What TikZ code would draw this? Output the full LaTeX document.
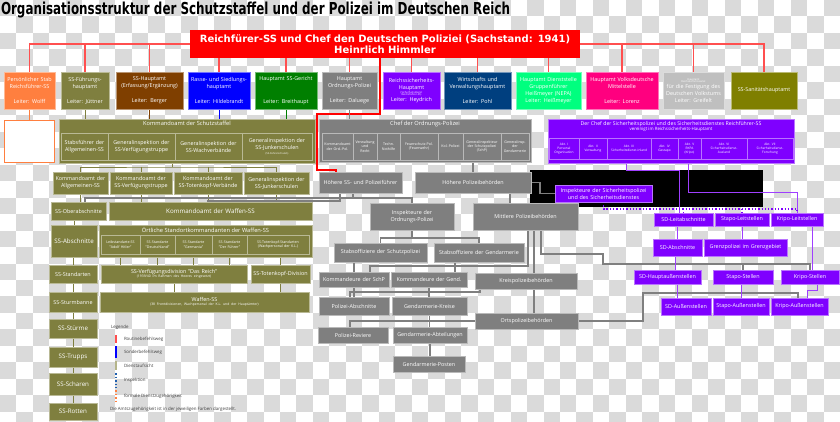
\documentclass[tikz,border=0pt]{standalone}
\usepackage{fontspec}
\usepackage{graphicx}
\setsansfont{Open Sans}
\newfontfamily\headfont{DejaVu Sans}
\usetikzlibrary{positioning}

\definecolor{rfred}{HTML}{FF0000}
\definecolor{redline}{HTML}{FF4F4F}
\definecolor{stabor}{HTML}{FF7F3F}
\definecolor{fhaolive}{HTML}{7F7F3F}
\definecolor{habrown}{HTML}{7F3F00}
\definecolor{rublue}{HTML}{0000FF}
\definecolor{gergreen}{HTML}{007F00}
\definecolor{orpogray}{HTML}{7F7F7F}
\definecolor{sdviolet}{HTML}{7F00FF}
\definecolor{sdline}{HTML}{9F3FFF}
\definecolor{wvblue}{HTML}{003F7F}
\definecolor{nepagreen}{HTML}{00FF7F}
\definecolor{vomipink}{HTML}{FF007F}
\definecolor{rkfgray}{HTML}{BFBFBF}
\definecolor{saniolive}{HTML}{7F7F00}
\definecolor{lgolive}{HTML}{B5B58A}
\definecolor{lgdot}{HTML}{1F5FAF}
\definecolor{chkgray}{HTML}{DADADA}

\newcommand\fsz[2]{\fontsize{#1}{#2}\selectfont}
\newcommand\tny{\fsz{2.6}{3.2}}

\pgfdeclarelayer{chk}
\pgfdeclarelayer{bg}
\pgfsetlayers{chk,bg,main}

\begin{document}
\begin{tikzpicture}[x=1pt, y=-1pt,
  every node/.style={font=\sffamily\fsz{5.4}{7}, text=white, align=center,
                     inner xsep=0pt, inner ysep=0.5pt, outer sep=0pt},
  box/.style={fill=#1, draw=white!45!#1, line width=0.5pt, anchor=north west},
  wh/.style 2 args={text width=#1pt, minimum height=#2pt},
  head/.style={label={[font=\sffamily\fsz{5.7}{7}, text=white, anchor=north,
                       yshift=-1.5pt]north:{#1}}},
  big/.style={font=\sffamily\fsz{6.2}{7.5}},
  small/.style={font=\sffamily\fsz{3.6}{4.4}},
  mini/.style={font=\sffamily\fsz{3.2}{4}},
  lgtext/.style={font=\sffamily\fsz{4.4}{5}, text=black!75, anchor=west},
  rl/.style={draw=redline, line width=1.2pt},
  ol/.style={draw=fhaolive, line width=0.9pt},
  pl/.style={draw=orpogray, line width=1.3pt},
  vl/.style={draw=sdline, line width=0.9pt},
  vdot/.style={draw=sdviolet, line width=1.3pt, dotted},
  lgr/.style={draw=redline, line width=1.5pt},
  lgb/.style={draw=rublue, line width=1.5pt},
  lgo/.style={draw=lgolive, line width=1.5pt},
  lgd/.style={draw=lgdot, line width=1.5pt, dotted},
  lgf/.style={draw=stabor, line width=1.5pt, dotted},
]
\useasboundingbox (0,0) rectangle (840,421);
\begin{pgfonlayer}{chk}
  \fill[white] (0,0) rectangle (840,421);
  \begin{scope}
    \clip (0,0) rectangle (840,421);
    \foreach \i in {0,...,50}{\foreach \j in {0,...,25}{
      \ifodd\numexpr\i+\j\relax\else
        \fill[chkgray] (\i*16.47,\j*16.47) rectangle ++(16.47,16.47);
      \fi}}
  \end{scope}
\end{pgfonlayer}

\node[anchor=base west, text=black, inner sep=0pt] (title) at (1,14)
  {\resizebox{509pt}{12.5pt}{\headfont\bfseries Organisationsstruktur der Schutzstaffel und der Polizei im Deutschen Reich}};

\node[box=rfred, draw=none, wh={390}{28}, font=\headfont\bfseries\fsz{10}{11}] (rfss) at (190,30)
  {Reichfürer-SS und Chef den Deutschen Poliziei (Sachstand: 1941)\\Heinrlich Himmler};

\node[box=stabor, wh={51}{37}] (pers) at (4,72) {Persönlicher Stab\\Reichsführer-SS\\[8pt]Leiter: Wolff};
\node[box=fhaolive, wh={48}{37}] (sfha) at (61,72) {SS-Führungs-\\hauptamt\\[8pt]Leiter: Jüttner};
\node[box=habrown, wh={67}{37}] (ssha) at (116,72) {SS-Hauptamt\\(Erfassung/Ergänzung)\\[8pt]Leiter: Berger};
\node[box=rublue, wh={62}{37}] (rusha) at (188,72) {Rasse- und Siedlungs-\\hauptamt\\[8pt]Leiter: Hildebrandt};
\node[box=gergreen, wh={62}{37}] (gericht) at (255,72) {Hauptamt SS-Gericht\\[15.5pt]Leiter: Breithaupt};
\node[box=orpogray, wh={55}{37}] (hopo) at (322,72) {Hauptamt\\Ordnungs-Polizei\\[8pt]Leiter: Daluege};
\node[box=sdviolet, wh={57}{37}] (rsha) at (383,72) {Reichssicherheits-\\Hauptamt\\[-3pt]{\tny (Sicherheitsdienst}\\[-4.5pt]{\tny Reichsführer-SS)}\\[-1pt]Leiter: Heydrich};
\node[box=wvblue, wh={67}{37}] (wvha) at (444,72) {Wirtschafts und\\Verwaltungshauptamt\\[8pt]Leiter: Pohl};
\node[box=nepagreen, wh={65}{37}] (nepa) at (516,72) {Hauptamt Dienststelle\\Gruppenführer\\Heißmeyer (NEPA)\\Leiter: Heißmeyer};
\node[box=vomipink, wh={72}{37}] (vomi) at (586,72) {Hauptamt Volksdeutsche\\Mittelstelle\\[8pt]Leiter: Lorenz};
\node[box=rkfgray, wh={61}{37}] (rkf) at (663,72) {{\tny Hauptamt}\\[-4.5pt]{\tny Reichskommissariat}\\[-1pt]für die Festigung des\\Deutschen Volkstums\\Leiter: Greifelt};
\node[box=saniolive, wh={66}{37}] (sani) at (731,72) {SS-Sanitätshauptamt};

\node[box=white, draw=stabor, line width=1.5pt, wh={50}{42}] (persbox) at (4.5,120.5) {};

\node[box=fhaolive, wh={256}{44}, head={Kommandoamt der Schutzstaffel}] (koss) at (59,119) {};
\node[box=fhaolive, wh={47}{27}] (stabsf) at (61,133) {Stabsführer der\\Allgemeinen-SS};
\node[box=fhaolive, wh={67}{27}, right=0pt of stabsf] (givt) {Generalinspektion der\\SS-Verfügungstruppe};
\node[box=fhaolive, wh={67}{27}, right=0pt of givt] (giwv) {Generalinspektion der\\SS-Wachverbände};
\node[box=fhaolive, wh={70}{27}, right=0pt of giwv] (gijsk) {Generalinspektion der\\SS-Junkerschulen\\[-2.5pt]{\tny (SS-Führerschulen)}};

\node[box=orpogray, wh={212}{43}, head={Chef der Ordnungs-Polizei}] (cop) at (319,119) {};
\node[box=orpogray, small, wh={31}{27}] (opkdo) at (322,133) {Kommandoamt\\der Ord.-Pol.};
\node[box=orpogray, small, wh={24}{27}, right=0pt of opkdo] (opverw) {Verwaltung\\und\\Recht};
\node[box=orpogray, small, wh={23}{27}, right=0pt of opverw] (optn) {Techn.\\Nothilfe};
\node[box=orpogray, small, wh={38}{27}, right=0pt of optn] (opfeuer) {Feuerschutz-Pol.\\(Feuerwehr)};
\node[box=orpogray, small, wh={25}{27}, right=0pt of opfeuer] (opkol) {Kol.-Polizei};
\node[box=orpogray, small, wh={38}{27}, right=0pt of opkol] (opschp) {Generalinspekteur\\der Schutzpolizei\\(SchP)};
\node[box=orpogray, small, wh={28}{27}, right=0pt of opschp] (opgend) {Generalinsp.\\der\\Gendarmerie};

\node[box=sdviolet, wh={246}{44},
  label={[font=\sffamily\fsz{5.2}{6.5}, text=white, anchor=north, yshift=-2pt]north:{Der Chef der Sicherheitspolizei und des Sicherheitsdienstes Reichführer-SS\\[-1.5pt]{\fsz{4.4}{5}vereinigt im Reichssicherheits-Hauptamt}}}] (csipo) at (548,119) {};
\node[box=sdviolet, mini, wh={30}{21}] (abt1) at (549,138) {Abt. I\\Personal\\Organisation};
\node[box=sdviolet, mini, wh={28}{21}, right=0pt of abt1] (abt2) {Abt. II\\Verwaltung};
\node[box=sdviolet, mini, wh={44}{21}, right=0pt of abt2] (abt3) {Abt. III\\Sicherheitsdienst-Inland};
\node[box=sdviolet, mini, wh={27}{21}, right=0pt of abt3] (abt4) {Abt. IV\\Gestapo};
\node[box=sdviolet, mini, wh={23}{21}, right=0pt of abt4] (abt5) {Abt. V\\RKPA\\(Kripo)};
\node[box=sdviolet, mini, wh={46}{21}, right=0pt of abt5] (abt6) {Abt. VI\\Sicherheitsdienst-\\Ausland};
\node[box=sdviolet, mini, wh={46}{21}, right=0pt of abt6] (abt7) {Abt. VII\\Sicherheitsdienst-\\Forschung};

\node[box=fhaolive, wh={55}{22}] (kallg) at (53,172) {Kommandoamt der\\Allgemeinen-SS};
\node[box=fhaolive, wh={62}{22}] (kvt) at (110,172) {Kommandoamt der\\SS-Verfügungstruppe};
\node[box=fhaolive, wh={68}{22}] (ktv) at (174,172) {Kommandoamt der\\SS-Totenkopf-Verbände};
\node[box=fhaolive, wh={65}{22}] (gijs) at (244,172) {Generalinspektion der\\SS-Junkerschulen};
\node[box=orpogray, wh={83}{21}] (hsspf) at (319,172) {Höhere SS- und Polizeiführer};
\node[box=orpogray, wh={116}{21}] (hpb) at (415,172) {Höhere Polizeibehörden};

\node[box=sdviolet, wh={97}{17}] (idsipo) at (555,185) {Inspekteure der Sicherheitspolizei\\und des Sicherheitsdienstes};

\node[box=fhaolive, wh={55}{18}] (oberab) at (51,202) {SS-Oberabschnitte};
\node[box=fhaolive, big, wh={203}{18}] (kwss) at (109,202) {Kommandoamt der Waffen-SS};
\node[box=orpogray, wh={84}{27}] (idop) at (370,203) {Inspekteure der\\Ordnungs-Polizei};
\node[box=orpogray, wh={105}{27}] (mpb) at (473,203) {Mittlere Polizeibehörden};
\node[box=sdviolet, wh={59}{13}] (sdleit) at (654,213) {SD-Leitabschnitte};
\node[box=sdviolet, wh={54}{13}] (stapoleit) at (715,213) {Stapo-Leitstellen};
\node[box=sdviolet, wh={52}{13}] (kripoleit) at (771,213) {Kripo-Leitstellen};

\node[box=fhaolive, big, wh={46}{32}] (abschn) at (51,225) {SS-Abschnitte};
\node[box=fhaolive, wh={213}{32}, head={Örtliche Standortkommandanten der Waffen-SS}] (ortskdt) at (99,225) {};
\node[box=fhaolive, small, wh={39}{19}] (lah) at (101,235) {Leibstandarte-SS\\"Adolf Hitler"};
\node[box=fhaolive, small, wh={35}{19}, right=0pt of lah] (sdeu) {SS-Standarte\\"Deutschland"};
\node[box=fhaolive, small, wh={37}{19}, right=0pt of sdeu] (sger) {SS-Standarte\\"Germania"};
\node[box=fhaolive, small, wh={35}{19}, right=0pt of sger] (sdf) {SS-Standarte\\"Der Führer"};
\node[box=fhaolive, small, wh={62}{19}, right=0pt of sdf] (stk) {SS-Totenkopf-Standarten\\(Wachpersonal der K.L.)};
\node[box=sdviolet, wh={49}{17}] (sdab) at (653,239) {SD-Abschnitte};
\node[box=sdviolet, wh={83}{17}] (grenz) at (704,239) {Grenzpolizei im Grenzgebiet};
\node[box=orpogray, wh={93}{19}] (stabsschp) at (334,243) {Stabsoffiziere der Schutzpolizei};
\node[box=orpogray, wh={90}{19}] (stabsgend) at (434,243) {Stabsoffiziere der Gendarmerie};

\node[box=fhaolive, wh={48}{18}] (standarten) at (49,265) {SS-Standarten};
\node[box=fhaolive, wh={146}{18}] (vdiv) at (101,265) {SS-Verfügungsdivision "Das Reich"\\[-2.5pt]{\fsz{3.4}{4}(1939/40 im Rahmen des Heeres eingesetzt)}};
\node[box=fhaolive, wh={59}{18}] (tkdiv) at (251,265) {SS-Totenkopf-Division};
\node[box=orpogray, wh={70}{15}] (kdrschp) at (319,272) {Kommandeure der SchP};
\node[box=orpogray, wh={76}{15}] (kdrgend) at (391,272) {Kommandeure der Gend.};
\node[box=orpogray, wh={102}{16}] (kreis) at (475,273) {Kreispolizeibehörden};
\node[box=sdviolet, wh={67}{14}] (sdhaus) at (634,270) {SD-Hauptaußenstellen};
\node[box=sdviolet, wh={60}{14}] (stapost) at (713,270) {Stapo-Stellen};
\node[box=sdviolet, wh={58}{14}] (kripost) at (781,270) {Kripo-Stellen};

\node[box=fhaolive, wh={48}{20}] (sturmbanne) at (49,292) {SS-Sturmbanne};
\node[box=fhaolive, wh={209}{20}] (waffenss) at (100,292) {Waffen-SS\\[-2.5pt]{\fsz{3.4}{4}(38 Frontdivisionen, Wachpersonal der K.L. und der Hauptämter)}};
\node[box=orpogray, wh={70}{18}] (polab) at (319,297) {Polizei-Abschnitte};
\node[box=orpogray, wh={75}{18}] (gendkr) at (392,297) {Gendarmerie-Kreise};
\node[box=sdviolet, wh={50}{17}] (sdaus) at (661,298) {SD-Außenstellen};
\node[box=sdviolet, wh={56}{17}] (stapoaus) at (713,298) {Stapo-Außenstellen};
\node[box=sdviolet, wh={57}{17}] (kripoaus) at (771,298) {Kripo-Außenstellen};
\node[box=orpogray, wh={103}{16}] (orts) at (475,313) {Ortspolizeibehörden};

\node[box=fhaolive, big, wh={48}{19}] (stuerme) at (49,319) {SS-Stürme};
\node[box=orpogray, wh={70}{16}] (polrev) at (318,327) {Polizei-Reviere};
\node[box=orpogray, wh={74}{16}] (gendabt) at (393,327) {Gendarmerie-Abteilungen};
\node[box=fhaolive, big, wh={48}{20}] (trupps) at (49,347) {SS-Trupps};
\node[box=orpogray, wh={72}{16}] (gendposten) at (393,356) {Gendarmerie-Posten};
\node[box=fhaolive, big, wh={48}{22}] (scharen) at (49,373) {SS-Scharen};
\node[box=fhaolive, big, wh={48}{17}] (rotten) at (49,403) {SS-Rotten};

\node[lgtext] (lgtitle) at (111,327) {Legende};
\foreach \ya/\yb/\st/\tx [count=\k] in {335/343/lgr/Routinebefehlsweg, 346/358/lgb/Sonderbefehlsweg,
    361/370/lgo/Dienstaufsicht, 373/388/lgd/Inspektion, 390/403/lgf/formale Dienstzugehörigkeit}{
  \coordinate (lga\k) at (116,\ya);
  \coordinate (lgb\k) at (116,\yb);
  \node[lgtext] (lgt\k) at (124,{(\ya+\yb)/2}) {\tx};
  \begin{pgfonlayer}{bg}\draw[\st] (lga\k) -- (lgb\k);\end{pgfonlayer}
}
\node[lgtext] (lgnote) at (110,409) {Die Amtszugehörigkeit ist in der jeweiligen Farben dargestellt.};

\begin{pgfonlayer}{bg}
\node[fill=black, anchor=north west, text width=233pt, minimum height=37pt] (blackfield) at (530,170) {};

\draw[rl] (rfss.west) -| (pers.north);
\draw[rl] (sfha.north) |- (rfss.west);
\draw[rl] (ssha.north) |- (rfss.west);
\foreach \n in {rusha,gericht,hopo,rsha,wvha,nepa}
  \draw[rl] (rfss.south -| \n.north) -- (\n.north);
\draw[rl] (rfss.east) -| (sani.north);
\draw[rl] (vomi.north) |- (rfss.east);
\draw[rl] (rkf.north) |- (rfss.east);
\draw[draw=rfred, line width=2pt] (rfss.south -| 380,0) |- (317,114) |- (336,170) -- ([xshift=17pt]hsspf.north west);

\draw[draw=stabor, line width=1.2pt] (pers.south) -- (persbox.north);
\draw[ol] (sfha.south) -- (sfha.south |- koss.north);
\draw[draw=habrown, line width=1pt] (ssha.south) -- (ssha.south |- koss.north);
\draw[draw=rublue, line width=1pt] (rusha.south) -- (rusha.south |- koss.north);
\draw[draw=gergreen, line width=1pt] (gericht.south) -- (gericht.south |- koss.north);

\coordinate (kbus) at (172,167);
\draw[ol] (koss.south -| kbus) -- (kbus);
\draw[ol] (kallg.north) |- (kbus) -| (gijs.north);
\draw[ol] (kvt.north) -- (kvt.north |- kbus);
\draw[ol] (ktv.north) -- (ktv.north |- kbus);
\draw[ol] (kallg.south) -- (kallg.south |- oberab.north);
\foreach \n in {kvt,ktv,gijs}
  \draw[ol] (\n.south) -- (\n.south |- kwss.north);
\foreach \a/\b in {oberab/abschn, abschn/standarten, standarten/sturmbanne, sturmbanne/stuerme,
    stuerme/trupps, trupps/scharen, scharen/rotten}
  \draw[ol] (\b.north |- \a.south) -- (\b.north);
\foreach \n in {lah,sdeu,sger,sdf}
  \draw[ol] (\n.south) -- (\n.south |- vdiv.north);
\draw[ol] (stk.south -| tkdiv.north) -- (tkdiv.north);
\draw[ol] (vdiv.south) -- (vdiv.south |- waffenss.north);
\draw[ol] (tkdiv.south) -- (tkdiv.south |- waffenss.north);

\draw[pl] (hopo.south) -- (hopo.south |- cop.north);
\draw[pl] (cop.south -| hpb.north) -- (hpb.north);
\coordinate (hsbus) at (353,198);
\draw[pl] (hsspf.south -| hsbus) -- (hsbus) -| (idop.north);
\draw[pl] (hsbus) -| ([xshift=34pt]oberab.north west);
\draw[pl] ([xshift=21pt]hsspf.south west) -- ++(0,8) -| (kwss.north -| ktv.south);
\draw[pl] (hpb.south -| 510,0) -- (mpb.north -| 510,0);
\draw[pl] (hpb.east) -- ++(9,0) |- (idsipo.west);
\draw[pl] (idop.south) -- ++(0,8) coordinate (ibus);
\draw[pl] (stabsschp.north) |- (ibus) -| (stabsgend.north);
\draw[pl] (stabsschp.south -| kdrschp.north) -- (kdrschp.north);
\draw[pl] (stabsgend.south -| 455,0) -- (kdrgend.north -| 455,0);
\draw[pl] (mpb.south -| 528,0) -- (528,266) -| (kdrschp.north -| 370,0);
\draw[pl] (kdrschp.south) -- (kdrschp.south |- polab.north);
\draw[pl] (kdrgend.south) -- (kdrgend.south |- gendkr.north);
\draw[pl] (gendkr.south) -- (gendkr.south |- gendabt.north);
\draw[pl] (gendabt.south) -- (gendabt.south |- gendposten.north);
\draw[pl] (mpb.south -| 534,0) -- (kreis.north -| 534,0);
\draw[pl] (kreis.south -| 534,0) -- (orts.north -| 534,0);
\draw[pl] ([xshift=5pt]kreis.south west) -- ++(0,3) -| ([xshift=31pt]polab.north west);
\draw[pl] (orts.west) -| ([xshift=32pt]polrev.north west);
\coordinate (sbus) at (603,264);
\draw[pl] (mpb.south -| 541,0) |- (sbus |- 0,254) -- (sbus) -| (kripost.north);
\draw[pl] (stapost.north) -- (stapost.north |- sbus);
\draw[pl] (orts.east) -| (643,293) -| (kripoaus.north -| 798,0);

\draw[vl] (csipo.south -| 626,0) -- ++(0,7) -| ([xshift=25pt]sdleit.north west);
\draw[vl] (csipo.south -| 688,0) |- (kripoleit.north |- 0,192) -- (kripoleit.north);
\draw[vdot] (idsipo.south) -- ++(0,7) coordinate (dbus) -| (kripoleit.north);
\draw[vdot] (sdleit.north) -- (sdleit.north |- dbus);
\draw[vdot] (stapoleit.north) -- (stapoleit.north |- dbus);
\draw[vl] (stapoleit.south) -- (stapoleit.south |- grenz.north);
\draw[vl] (sdab.north) -- (sdab.north |- sdleit.south);
\draw[vl] (sdab.south -| 675,0) -- (sdhaus.north -| 675,0);
\draw[vl] (kripoleit.south -| 812,0) -- (kripost.north -| 812,0);
\draw[vl] (sdhaus.south -| 677,0) -- (sdaus.north -| 677,0);
\draw[vl] (stapoaus.north) -- (stapoaus.north |- stapost.south);
\draw[vl] (kripost.south -| 817,0) -- ++(0,6) -| (kripoaus.north -| 807,0);
\end{pgfonlayer}
\end{tikzpicture}
\end{document}
